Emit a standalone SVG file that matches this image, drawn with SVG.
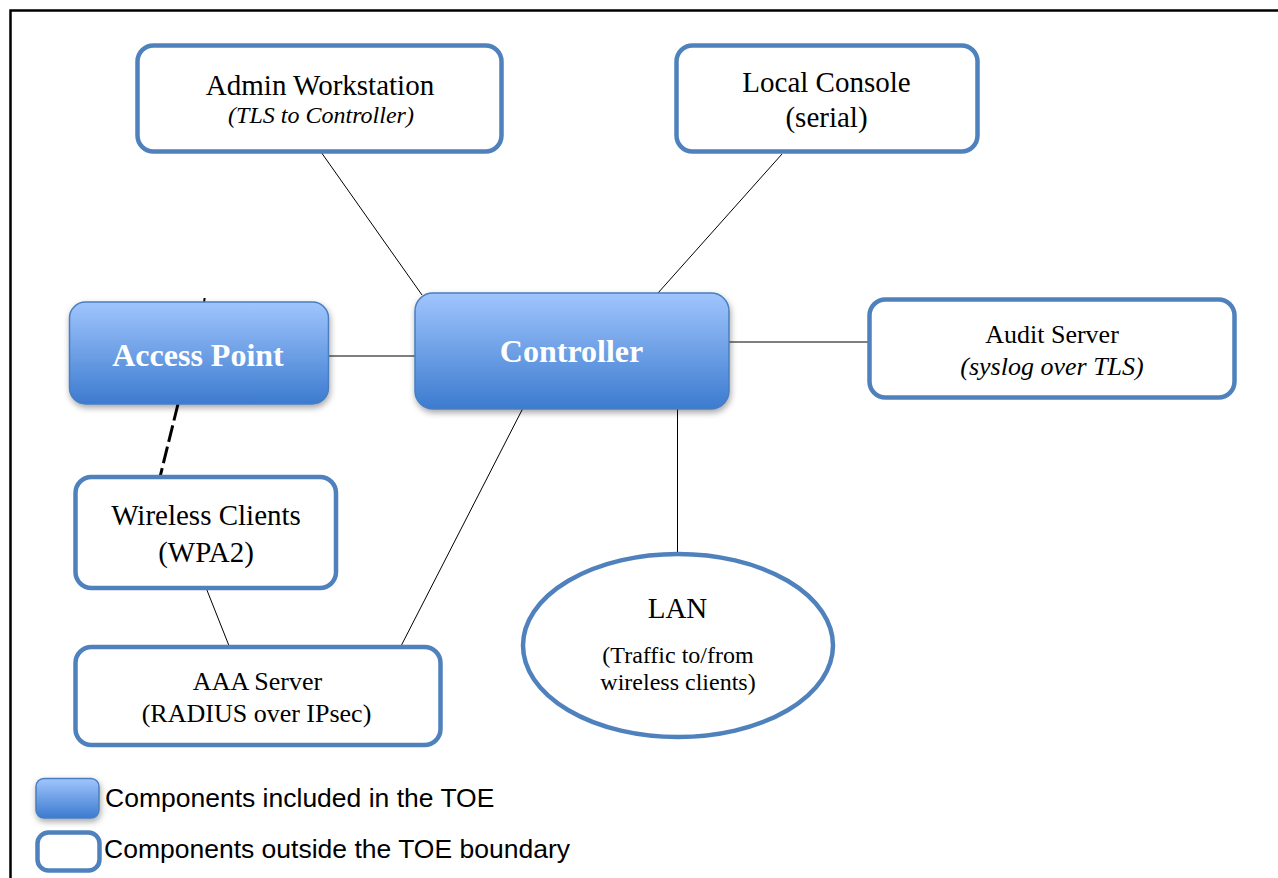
<svg xmlns="http://www.w3.org/2000/svg" width="1278" height="878" viewBox="0 0 1278 878">
<style>
.out{fill:#fff;stroke:#4f81bd;stroke-width:4.5}
.toe{fill:url(#g);stroke:#4a7ebf;stroke-width:1.5;filter:url(#sh)}
.t{font-family:"Liberation Serif","Times New Roman",serif;fill:#000;text-anchor:middle}
.i{font-style:italic}
.b{font-weight:bold;fill:#fff;font-size:32px}
.c{stroke:#000;stroke-width:1;fill:none}
.leg{font-family:"Liberation Sans",Arial,sans-serif;font-size:26.5px;fill:#000}
</style>
<defs>
<linearGradient id="g" x1="0" y1="0" x2="0" y2="1">
<stop offset="0" stop-color="#a0c5fd"/>
<stop offset="1" stop-color="#3c7bcf"/>
</linearGradient>
<filter id="sh" x="-10%" y="-10%" width="125%" height="135%">
<feDropShadow dx="1" dy="3" stdDeviation="3" flood-color="#000" flood-opacity="0.35"/>
</filter>
</defs>
<rect x="0" y="0" width="1278" height="878" fill="#fff"/>
<rect x="10.5" y="10.5" width="1300" height="900" fill="none" stroke="#000" stroke-width="2.5"/>
<g id="connectors">
<line class="c" x1="321" y1="152" x2="422" y2="295"/>
<line class="c" x1="782" y1="154" x2="658" y2="293"/>
<line class="c" x1="328" y1="356" x2="415" y2="356"/>
<line class="c" x1="729" y1="342" x2="869" y2="342"/>
<line class="c" x1="677.5" y1="409" x2="677.5" y2="552"/>
<line class="c" x1="522.5" y1="409" x2="400" y2="648"/>
<line class="c" x1="206.5" y1="589" x2="229.5" y2="647"/>
<line x1="178" y1="404" x2="160" y2="477" stroke="#000" stroke-width="3" stroke-dasharray="17 5"/>
<line x1="204.6" y1="298" x2="204.1" y2="302.5" stroke="#000" stroke-width="2"/>
</g>
<g id="admin">
<rect class="out" x="137.5" y="45.5" width="364" height="106" rx="16"/>
<text class="t" x="320" y="95" font-size="29">Admin Workstation</text>
<text class="t i" x="321" y="123" font-size="24">(TLS to Controller)</text>
</g>
<g id="console">
<rect class="out" x="676.5" y="45.5" width="301" height="106" rx="16"/>
<text class="t" x="826.5" y="92" font-size="29">Local Console</text>
<text class="t" x="826.5" y="127" font-size="29">(serial)</text>
</g>
<g id="accesspoint">
<rect class="toe" x="69.5" y="302" width="259" height="102" rx="16"/>
<text class="t b" x="198" y="366">Access Point</text>
</g>
<g id="controller">
<rect class="toe" x="415" y="293" width="314" height="116" rx="18"/>
<text class="t b" x="571.5" y="362">Controller</text>
</g>
<g id="audit">
<rect class="out" x="869.5" y="299.5" width="365" height="98" rx="16"/>
<text class="t" x="1052" y="343" font-size="26">Audit Server</text>
<text class="t i" x="1052" y="375" font-size="26">(syslog over TLS)</text>
</g>
<g id="wireless">
<rect class="out" x="75.5" y="477" width="260.5" height="111" rx="16"/>
<text class="t" x="206" y="525" font-size="29">Wireless Clients</text>
<text class="t" x="206" y="561.5" font-size="29">(WPA2)</text>
</g>
<g id="aaa">
<rect class="out" x="75.5" y="647" width="365" height="98" rx="16"/>
<text class="t" x="257.5" y="690" font-size="26">AAA Server</text>
<text class="t" x="256.5" y="721.5" font-size="26">(RADIUS over IPsec)</text>
</g>
<g id="lan">
<ellipse class="out" cx="678" cy="645.5" rx="155" ry="91.5"/>
<text class="t" x="677.5" y="618" font-size="29">LAN</text>
<text class="t" x="678" y="663" font-size="24">(Traffic to/from</text>
<text class="t" x="678" y="690" font-size="24">wireless clients)</text>
</g>
<g id="legend">
<rect class="toe" x="36" y="778.5" width="63" height="39.5" rx="8"/>
<text class="leg" x="105" y="807">Components included in the TOE</text>
<rect class="out" x="37.5" y="832.5" width="62" height="38" rx="11"/>
<text class="leg" x="104" y="858">Components outside the TOE boundary</text>
</g>
</svg>
